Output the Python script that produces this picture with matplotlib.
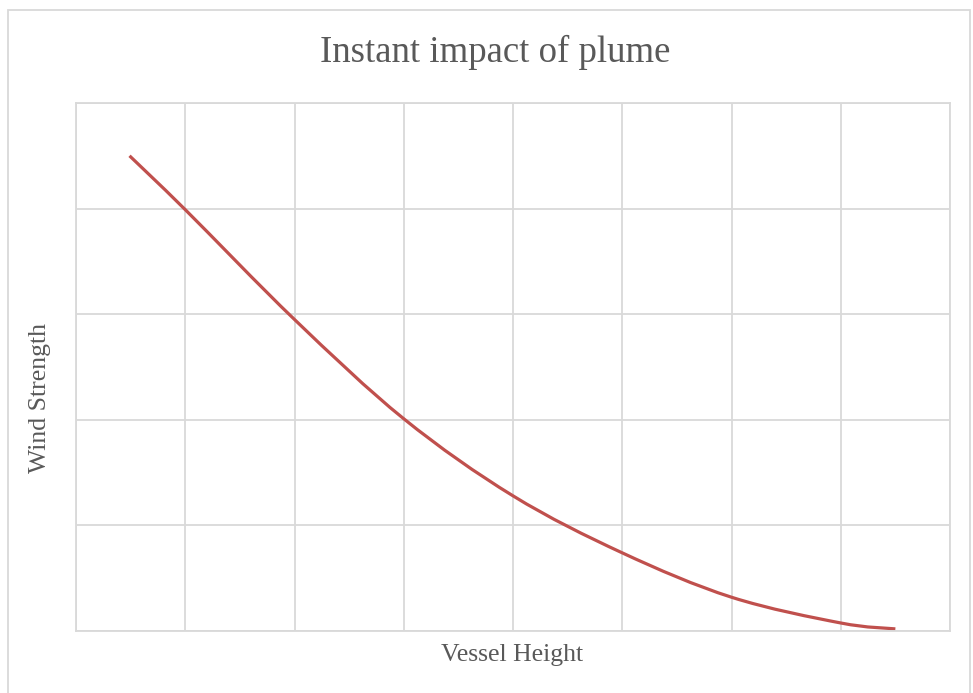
import matplotlib.pyplot as plt
from matplotlib.patches import Rectangle, PathPatch
from matplotlib.path import Path

# values (grid units)
height = [0.49, 1.0, 2.0, 3.0, 4.0, 5.0, 6.0, 7.0, 7.5]
wind = [4.50, 3.99, 2.95, 2.01, 1.28, 0.74, 0.32, 0.076, 0.02]
xgrid = [0, 1, 2, 3, 4, 5, 6, 7, 8]
ygrid = [0, 1, 2, 3, 4, 5]

plt.rcParams['font.family'] = ['Liberation Serif', 'DejaVu Serif']
txt = '#595959'
gcol = '#D9D9D9'

fig = plt.figure(figsize=(9.73, 6.93), dpi=100)
W, H = 973, 693
ax = fig.add_axes([76 / W, (H - 631) / H, 874 / W, 528 / H])

# smoothed line (like a spreadsheet "smooth line"): bezier through the points
pts = list(zip(height, wind))
verts = [pts[0]]; codes = [Path.MOVETO]
for i in range(len(pts) - 1):
    p0 = pts[i - 1] if i > 0 else pts[i]
    p1, p2 = pts[i], pts[i + 1]
    p3 = pts[i + 2] if i + 2 < len(pts) else pts[i + 1]
    c1 = (p1[0] + (p2[0] - p0[0]) / 6, p1[1] + (p2[1] - p0[1]) / 6)
    c2 = (p2[0] - (p3[0] - p1[0]) / 6, p2[1] - (p3[1] - p1[1]) / 6)
    verts += [c1, c2, p2]; codes += [Path.CURVE4] * 3
ax.add_patch(PathPatch(Path(verts, codes), fill=False, edgecolor='#C0504D', lw=2.3, capstyle='butt'))

ax.set_xlim(xgrid[0], xgrid[-1]); ax.set_ylim(ygrid[0], ygrid[-1])
ax.set_xticks(xgrid); ax.set_yticks(ygrid)
ax.tick_params(length=0, labelbottom=False, labelleft=False)
ax.grid(True, color=gcol, lw=1.3)
ax.set_axisbelow(True)
for s in ax.spines.values():
    s.set_color(gcol); s.set_linewidth(1.3)

fig.text(495 / W, 1 - 52 / H, 'Instant impact of plume', ha='center', va='center', fontsize=26.5, color=txt)
fig.text(512 / W, 1 - 655 / H, 'Vessel Height', ha='center', va='center', fontsize=18.5, color=txt)
fig.text(40 / W, 1 - 398 / H, 'Wind Strength', ha='center', va='center', rotation=90, fontsize=18.5, color=txt)

# outer chart border
fig.patches.append(Rectangle((8 / W, -0.1), 962 / W, 1.1 - 10 / H, transform=fig.transFigure,
                             fill=False, edgecolor=gcol, lw=1.3))

fig.savefig('out.png', dpi=100)
